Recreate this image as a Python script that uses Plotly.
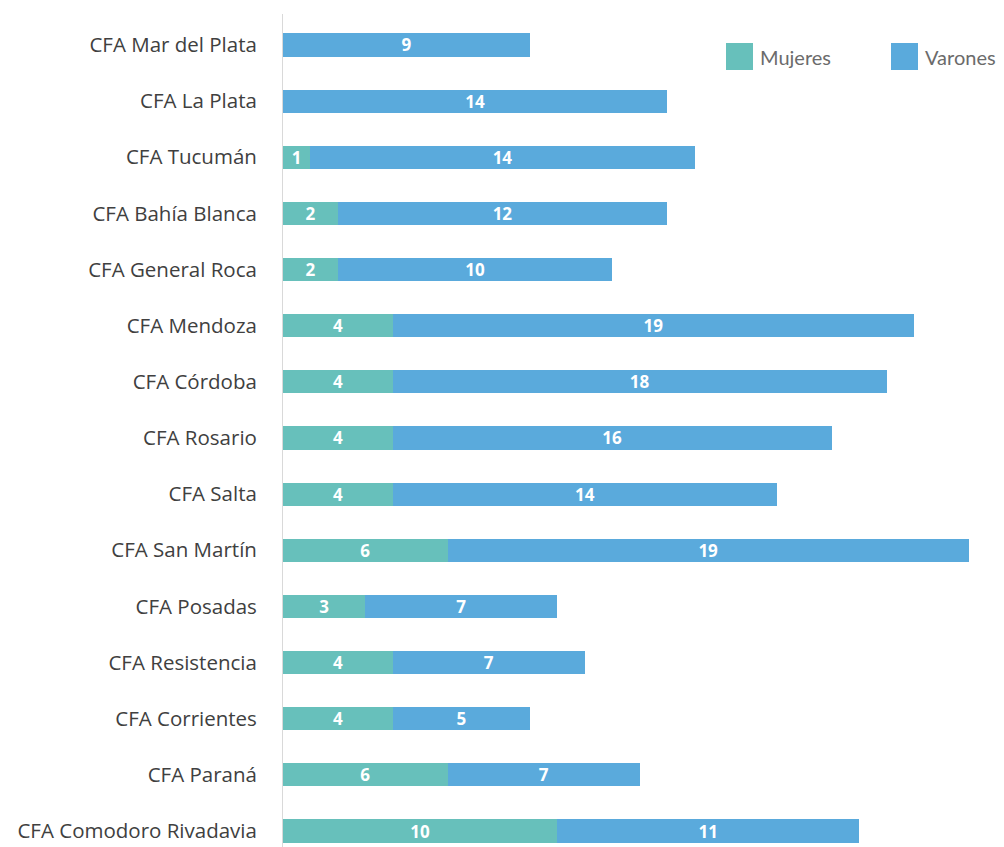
import plotly.graph_objects as go

# Data, listed top to bottom as in the chart
categories = [
    "CFA Mar del Plata", "CFA La Plata", "CFA Tucumán", "CFA Bahía Blanca",
    "CFA General Roca", "CFA Mendoza", "CFA Córdoba", "CFA Rosario",
    "CFA Salta", "CFA San Martín", "CFA Posadas", "CFA Resistencia",
    "CFA Corrientes", "CFA Paraná", "CFA Comodoro Rivadavia",
]
mujeres = [0, 0, 1, 2, 2, 4, 4, 4, 4, 6, 3, 4, 4, 6, 10]
varones = [9, 14, 14, 12, 10, 19, 18, 16, 14, 19, 7, 7, 5, 7, 11]

colours = {"Mujeres": "#67C0BB", "Varones": "#5AAADC"}

# the page puts the figure 8px in from the top-left corner
OFF = 8
W, H = 1004, 847
L, R, T, B = 283 - OFF, OFF, 14 - OFF, OFF


def bar_trace(name, values):
    return go.Bar(
        name=name,
        y=categories,
        x=values,
        orientation="h",
        marker_color=colours[name],
        marker_line_width=0,
        text=[str(v) if v else "" for v in values],
        textposition="inside",
        insidetextanchor="middle",
        textangle=0,
        constraintext="none",
        textfont=dict(family="Open Sans", size=17, color="white", weight="bold"),
        showlegend=False,
    )


fig = go.Figure()
fig.add_trace(bar_trace("Mujeres", mujeres))
fig.add_trace(bar_trace("Varones", varones))

# legend drawn by hand so the squares can be as big as in the original
pw = W - L - R
ph = H - T - B


def px_x(x):
    return (x - OFF - L) / pw


def px_y(y):
    return (H - B - (y - OFF)) / ph


legend_items = [("Mujeres", 726), ("Varones", 891)]
for name, x0 in legend_items:
    fig.add_shape(type="rect", xref="paper", yref="paper",
                  x0=px_x(x0), x1=px_x(x0 + 27), y0=px_y(70), y1=px_y(43),
                  fillcolor=colours[name], line_width=0)
    fig.add_annotation(xref="paper", yref="paper", x=px_x(x0 + 32), y=px_y(57),
                       text=name, showarrow=False, xanchor="left",
                       yanchor="middle",
                       font=dict(family="Lato", size=20, color="#6b6b6b"))

fig.update_layout(
    barmode="stack",
    bargap=0.59,
    width=W,
    height=H,
    margin=dict(l=L, r=R, t=T, b=B),
    plot_bgcolor="white",
    paper_bgcolor="white",
    font=dict(family="Open Sans", color="#404040"),
)
fig.update_xaxes(range=[0, 26.28], showgrid=False, zeroline=False,
                 showticklabels=False, showline=False)
fig.update_yaxes(range=[14.285, -0.552], showgrid=False, zeroline=False,
                 showline=True, linecolor="#d9d9d9", linewidth=1,
                 ticks="", ticklabelstandoff=21,
                 tickfont=dict(family="Open Sans", size=20.5, color="#404040"))

fig.write_html("out.html")
